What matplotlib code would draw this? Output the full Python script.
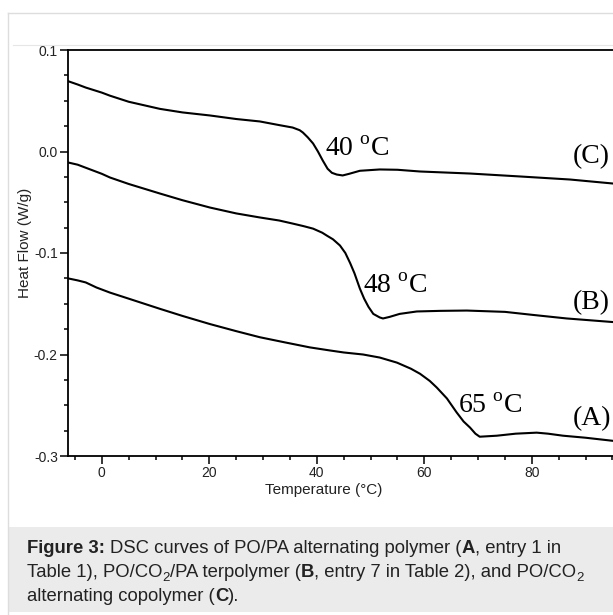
import matplotlib
matplotlib.use("Agg")
import matplotlib.pyplot as plt
from matplotlib.patches import Rectangle
from matplotlib.lines import Line2D
from matplotlib.ticker import MultipleLocator

plt.rcParams['font.family'] = ['Liberation Sans', 'DejaVu Sans']
plt.rcParams['mathtext.fontset'] = 'custom'
plt.rcParams['mathtext.rm'] = 'Liberation Serif'

# DSC traces (temperature in degC, heat flow in W/g)
temp_a = [-6.3, -4.5, -3, -1, 1.5, 5, 10.8, 15, 20.1, 25, 29.4, 34, 38.7, 42.4, 45, 48.6,
          51.7, 54.9, 57.5, 59.2, 61, 62.3, 64.2, 66, 67.3, 68.5, 69.5, 70.3, 73.5, 77,
          80.9, 83, 85.8, 90, 95]
hf_a = [-0.125, -0.127, -0.129, -0.134, -0.139, -0.145, -0.155, -0.162, -0.170, -0.177,
        -0.183, -0.188, -0.193, -0.196, -0.198, -0.200, -0.203, -0.208, -0.214, -0.219,
        -0.226, -0.2325, -0.2433, -0.257, -0.266, -0.272, -0.278, -0.281, -0.280, -0.278,
        -0.277, -0.278, -0.280, -0.282, -0.285]

temp_b = [-6.3, -4.5, -3, -1.5, 0, 1.5, 5, 10.8, 15, 20.1, 25, 29.4, 33, 35.5, 37.5, 39.3,
          41, 41.9, 43, 44.3, 45.3, 46.2, 47.0, 48, 48.8, 49.6, 50.5, 51.7, 52.3, 53.5,
          55.4, 58.6, 63, 67.9, 75, 80.2, 86.5, 95]
hf_b = [-0.0108, -0.013, -0.016, -0.019, -0.022, -0.0256, -0.032, -0.0414, -0.048, -0.0552,
        -0.061, -0.065, -0.068, -0.071, -0.0735, -0.076, -0.080, -0.083, -0.0865, -0.0926,
        -0.100, -0.110, -0.120, -0.135, -0.145, -0.153, -0.160, -0.1635, -0.1645, -0.163,
        -0.160, -0.1576, -0.157, -0.1567, -0.158, -0.161, -0.1645, -0.168]

temp_c = [-6.3, -4.5, -3, -1.5, 0, 1.5, 5, 10.8, 15, 20.1, 25, 29.4, 33, 35.5, 36.8, 37.4,
          38.3, 39.3, 40.2, 41.1, 42.0, 42.8, 43.7, 44.8, 46, 48, 51.7, 55, 59.2, 68.5,
          77.8, 87.1, 95]
hf_c = [0.0693, 0.066, 0.063, 0.0605, 0.058, 0.055, 0.049, 0.042, 0.0385, 0.0355, 0.032,
        0.0296, 0.026, 0.0236, 0.021, 0.0187, 0.014, 0.0079, 0.000, -0.0089, -0.017, -0.021,
        -0.0227, -0.0236, -0.022, -0.019, -0.0177, -0.018, -0.0197, -0.0217, -0.0246,
        -0.0276, -0.0315]

tg_labels = ['65 $^{\\rm o}$C', '48 $^{\\rm o}$C', '40 $^{\\rm o}$C']
tg_pos = [(66.2, -0.258), (48.6, -0.139), (41.5, -0.004)]
curve_names = ['(A)', '(B)', '(C)']
name_pos = [(87.6, -0.270), (87.6, -0.155), (87.6, -0.011)]

W, H = 613, 615
fig = plt.figure(figsize=(W / 100, H / 100), dpi=100)

# page frame and caption box
fig.add_artist(Line2D([8 / W, 8 / W], [0, 1 - 13 / H], color='#dddddd', lw=1))
fig.add_artist(Line2D([8 / W, 1], [1 - 13 / H, 1 - 13 / H], color='#dddddd', lw=1))
fig.add_artist(Line2D([13 / W, 1], [1 - 45 / H, 1 - 45 / H], color='#e6e6e6', lw=0.8))
fig.add_artist(Rectangle((8.5 / W, 3 / H), 1, 85 / H, facecolor='#ebebeb',
                         edgecolor='none', transform=fig.transFigure))

# the chart is cut off at the right edge of the page, so the axes run to x = 613 px
ax = fig.add_axes([68 / W, 1 - 456 / H, 545 / W, 406 / H])
for t, hf in [(temp_a, hf_a), (temp_b, hf_b), (temp_c, hf_c)]:
    ax.plot(t, hf, color='black', lw=1.5, solid_joinstyle='round')

for lab, (x, y) in zip(tg_labels, tg_pos):
    ax.text(x, y, lab, fontsize=20, family='Liberation Serif', va='baseline')
for lab, (x, y) in zip(curve_names, name_pos):
    ax.text(x, y, lab, fontsize=20, family='Liberation Serif', va='baseline')

ax.set_xlim(-6.3, 95.1)
ax.set_ylim(-0.3, 0.1)
ax.spines['right'].set_visible(False)
ax.xaxis.set_major_locator(MultipleLocator(20))
ax.xaxis.set_minor_locator(MultipleLocator(5))
ax.yaxis.set_major_locator(MultipleLocator(0.1))
ax.yaxis.set_minor_locator(MultipleLocator(0.025))
ax.yaxis.set_major_formatter(plt.FuncFormatter(lambda v, p: '%.1f' % v))
ax.tick_params(which='major', length=5.5, width=1.1, labelsize=10, pad=1.8,
               colors='black', labelcolor='#222222')
ax.tick_params(which='minor', length=3, width=1.1)
for s in ax.spines.values():
    s.set_linewidth(1.3)

ax.set_xlabel('Temperature (°C)', fontsize=11, color='#222222')
ax.set_ylabel('Heat Flow (W/g)', fontsize=11, color='#222222')
ax.xaxis.set_label_coords(0.47, -0.066)
ax.yaxis.set_label_coords(-0.066, 0.525)


# caption, drawn run by run so bold words and subscripts sit inline
def draw_runs(x0, y0, runs, size=13.3):
    r = fig.canvas.get_renderer()
    probe = fig.text(0, 0, 'a a', fontsize=size)
    probe2 = fig.text(0, 0, 'aa', fontsize=size)
    sp = probe.get_window_extent(r).width - probe2.get_window_extent(r).width
    probe.remove()
    probe2.remove()
    x = x0
    for txt, style in runs:
        kw = dict(fontsize=size, color='#222222', va='baseline')
        yy = y0
        if style == 'b':
            kw['fontweight'] = 'bold'
        elif style == 's':
            kw['fontsize'] = size * 0.72
            yy = y0 + 4
        lead = len(txt) - len(txt.lstrip(' '))
        x += sp * lead
        t = fig.text(x / W, 1 - yy / H, txt.lstrip(' '), **kw)
        x += t.get_window_extent(r).width


draw_runs(27, 553, [('Figure 3:', 'b'), (' DSC curves of PO/PA alternating polymer (', 'n'),
                    ('A', 'b'), (', entry 1 in', 'n')])
draw_runs(27, 577, [('Table 1), PO/CO', 'n'), ('2', 's'), ('/PA terpolymer (', 'n'),
                    ('B', 'b'), (', entry 7 in Table 2), and PO/CO', 'n'), ('2', 's')])
draw_runs(27, 601, [('alternating copolymer (', 'n'), ('C', 'b'), (').', 'n')])

fig.savefig('out.png', dpi=100)
